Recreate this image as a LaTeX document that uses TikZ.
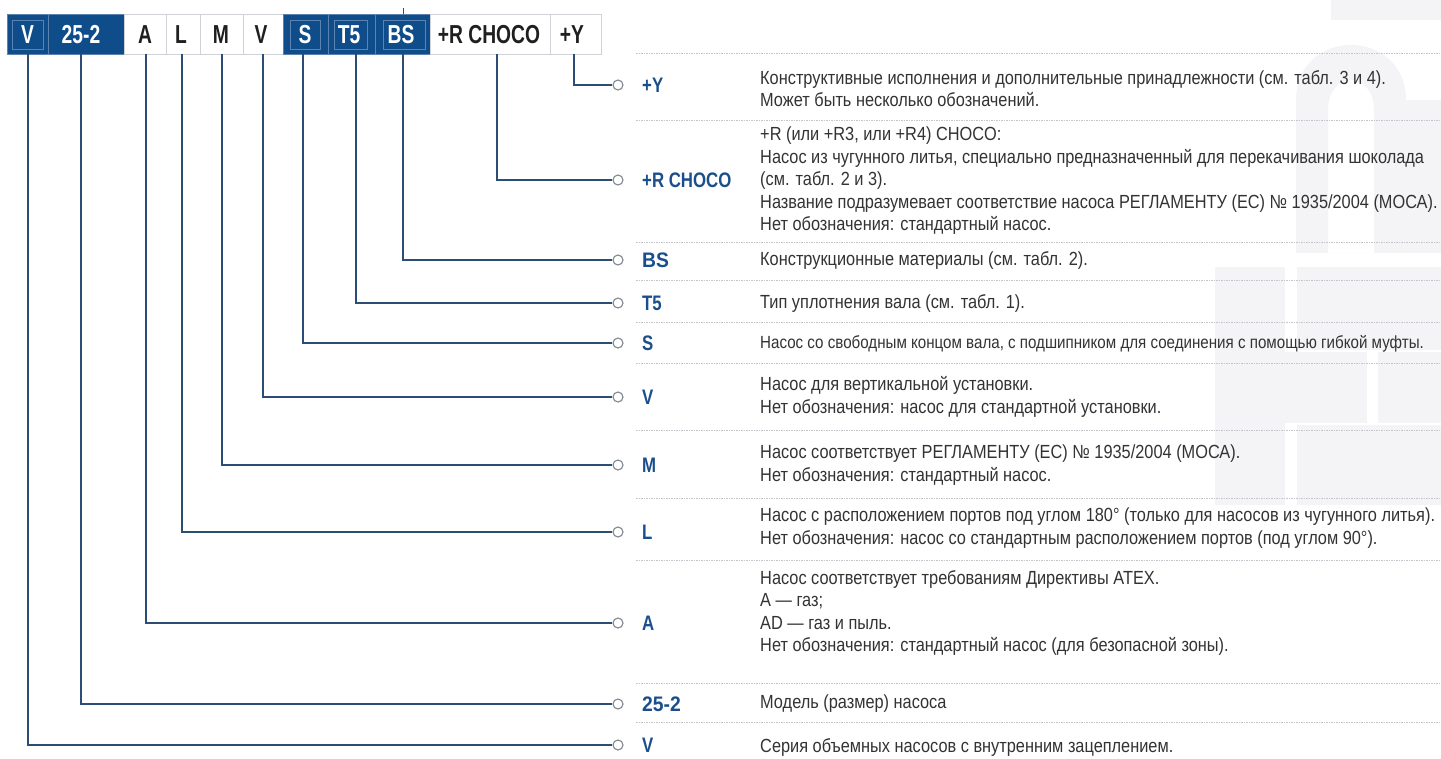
\documentclass[tikz,border=0pt]{standalone}
\usepackage{fontspec}
\setmainfont{Liberation Sans}
\newfontfamily\descfont{Liberation Sans}[FakeStretch=0.86]
\newfontfamily\codefont{Liberation Sans}[FakeStretch=0.8]
\newfontfamily\hdrfont{Liberation Sans}[FakeStretch=0.74]
\newfontfamily\widecode{Liberation Sans}[FakeStretch=0.92]
\definecolor{hdrblue}{HTML}{0F4C8A}
\definecolor{hdrline}{HTML}{CFD3D8}
\definecolor{hdrinner}{HTML}{5B82B0}
\definecolor{connblue}{HTML}{2C4E74}
\definecolor{labblue}{HTML}{1A4F8B}
\definecolor{desctext}{HTML}{333333}
\definecolor{sepgray}{HTML}{C4C6CC}
\definecolor{wmgray}{HTML}{F4F4F6}
\definecolor{circgray}{HTML}{7F8790}
\begin{document}
\begin{tikzpicture}[x=1pt,y=-1pt,
  darkbox/.style={fill=hdrblue,draw=hdrinner,line width=0.6pt,minimum height=40pt,inner sep=0pt},
  whitebox/.style={fill=white,draw=hdrline,line width=0.8pt,minimum height=40pt,inner sep=0pt},
  innersq/.style={draw=hdrinner,line width=0.6pt},
  codew/.style={anchor=base,inner sep=0pt,text=white,font=\hdrfont\bfseries\fontsize{26}{26}\selectfont},
  codek/.style={anchor=base,inner sep=0pt,text=black!88,font=\hdrfont\bfseries\fontsize{26}{26}\selectfont},
  conn/.style={draw=connblue,line width=1.5pt},
  circ/.style={circle,draw=circgray,fill=white,line width=1.1pt,minimum size=10pt,inner sep=0pt},
  lab/.style={anchor=base west,inner sep=0pt,text=labblue,font=\codefont\bfseries\fontsize{21}{21}\selectfont},
  labwide/.style={anchor=base west,inner sep=0pt,text=labblue,font=\widecode\bfseries\fontsize{21}{21}\selectfont},
  desc/.style={anchor=west,inner sep=0pt,align=left,text=desctext,font=\descfont\fontsize{19}{22.5}\selectfont},
  sep/.style={draw=sepgray,line width=1pt,dash pattern=on 1.5pt off 1pt}
]
\useasboundingbox (0,0) rectangle (1441,758);
\fill[white] (0,0) rectangle (1441,758);

% faint background watermark
\fill[wmgray] (1331,0) rectangle (1441,20);
\fill[wmgray,even odd rule]
  (1296,253) -- (1296,100) .. controls (1296,65) and (1322,45) .. (1351,45)
  .. controls (1380,45) and (1406,65) .. (1406,100) -- (1441,100) -- (1441,253) -- cycle
  (1328,253) -- (1328,110) .. controls (1328,90) and (1340,80) .. (1351,80)
  .. controls (1362,80) and (1374,90) .. (1374,110) -- (1374,253) -- cycle;
\fill[wmgray] (1215,267) rectangle (1285,505);
\fill[wmgray] (1297,267) rectangle (1441,350);
\fill[wmgray] (1285,352) rectangle (1367,423);
\fill[wmgray] (1378,352) rectangle (1441,423);
\fill[wmgray] (1297,425) rectangle (1441,505);

% header boxes
\node[darkbox,minimum width=41pt] (bV) at (27.5,34) {};
\node[darkbox,minimum width=76pt] (b252) at (86,34) {};
\node[whitebox,minimum width=42pt] (bA) at (145,34) {};
\node[whitebox,minimum width=34pt] (bL) at (183,34) {};
\node[whitebox,minimum width=43pt] (bM) at (221.5,34) {};
\node[whitebox,minimum width=40pt] (bV2) at (263,34) {};
\node[darkbox,minimum width=45pt] (bS) at (305.5,34) {};
\node[darkbox,minimum width=47pt] (bT5) at (351.5,34) {};
\node[darkbox,minimum width=55pt] (bBS) at (402.5,34) {};
\node[whitebox,minimum width=120pt] (bR) at (490,34) {};
\node[whitebox,minimum width=51pt] (bY) at (575.5,34) {};

\draw[innersq] (12,20) rectangle (43,49);
\draw[innersq] (290,20) rectangle (320,49);
\draw[innersq] (334,20) rectangle (367,49);
\draw[innersq] (383,20) rectangle (425,49);

\node[codew] (hV) at (27.5,43) {V};
\node[codew] (h252) at (81,43) {25-2};
\node[codek] (hA) at (145,43) {A};
\node[codek] (hL) at (181,43) {L};
\node[codek] (hM) at (221,43) {M};
\node[codek] (hV2) at (261,43) {V};
\node[codew] (hS) at (305,43) {S};
\node[codew] (hT5) at (349,43) {T5};
\node[codew] (hBS) at (401,43) {BS};
\node[codek] (hR) at (489,43) {+R CHOCO};
\node[codek] (hY) at (572,43) {+Y};

% tick above BS
\coordinate (bstop) at (403,8);
\draw[conn,line width=0.8pt] (bstop) -- (bstop |- bBS.north);

% connector start points
\coordinate (tV) at (28,54);
\coordinate (t252) at (81,54);
\coordinate (tA) at (146,54);
\coordinate (tL) at (182,54);
\coordinate (tM) at (222,54);
\coordinate (tV2) at (263,54);
\coordinate (tS) at (303,54);
\coordinate (tT5) at (356,54);
\coordinate (tBS) at (403,54);
\coordinate (tR) at (497,54);
\coordinate (tY) at (574,54);

% separators
\coordinate (s0a) at (636,53);  \coordinate (s0b) at (1441,53);
\coordinate (s1a) at (636,120); \coordinate (s1b) at (1441,120);
\coordinate (s2a) at (636,242); \coordinate (s2b) at (1441,242);
\coordinate (s3a) at (636,280); \coordinate (s3b) at (1441,280);
\coordinate (s4a) at (636,322); \coordinate (s4b) at (1441,322);
\coordinate (s5a) at (636,363); \coordinate (s5b) at (1441,363);
\coordinate (s6a) at (636,430); \coordinate (s6b) at (1441,430);
\coordinate (s7a) at (636,498); \coordinate (s7b) at (1441,498);
\coordinate (s8a) at (636,560); \coordinate (s8b) at (1441,560);
\coordinate (s9a) at (636,683); \coordinate (s9b) at (1441,683);
\coordinate (s10a) at (636,722); \coordinate (s10b) at (1441,722);
\foreach \i in {0,...,10} {\draw[sep] (s\i a) -- (s\i b);}

% circles
\node[circ] (cY) at (618,85) {};
\node[circ] (cR) at (618,180) {};
\node[circ] (cBS) at (618,260) {};
\node[circ] (cT5) at (618,303) {};
\node[circ] (cS) at (618,343) {};
\node[circ] (cV2) at (618,397) {};
\node[circ] (cM) at (618,465) {};
\node[circ] (cL) at (618,532) {};
\node[circ] (cA) at (618,623) {};
\node[circ] (c252) at (618,704) {};
\node[circ] (cV) at (618,745) {};

% connectors
\draw[conn] (tY) |- (cY);
\draw[conn] (tR) |- (cR);
\draw[conn] (tBS) |- (cBS);
\draw[conn] (tT5) |- (cT5);
\draw[conn] (tS) |- (cS);
\draw[conn] (tV2) |- (cV2);
\draw[conn] (tM) |- (cM);
\draw[conn] (tL) |- (cL);
\draw[conn] (tA) |- (cA);
\draw[conn] (t252) |- (c252);
\draw[conn] (tV) |- (cV);

% labels
\node[lab] (lY) at (642,92.5) {+Y};
\node[lab] (lR) at (642,187.5) {+R CHOCO};
\node[labwide] (lBS) at (642,267.5) {BS};
\node[lab] (lT5) at (642,310.5) {T5};
\node[lab] (lS) at (642,350.5) {S};
\node[lab] (lV2) at (642,404.5) {V};
\node[lab] (lM) at (642,472.5) {M};
\node[lab] (lL) at (642,539.5) {L};
\node[lab] (lA) at (642,630.5) {A};
\node[labwide] (l252) at (642,711.5) {25-2};
\node[lab] (lV) at (642,752.5) {V};

% descriptions
\node[desc] (dY) at (760,88.5) {Конструктивные исполнения и дополнительные принадлежности (см. табл. 3 и 4).\\Может быть несколько обозначений.};
\node[desc] (dR) at (760,181) {+R (или +R3, или +R4) CHOCO:\\Насос из чугунного литья, специально предназначенный для перекачивания шоколада\\(см. табл. 2 и 3).\\Название подразумевает соответствие насоса РЕГЛАМЕНТУ (ЕС) № 1935/2004 (МОСА).\\Нет обозначения: стандартный насос.};
\node[desc] (dBS) at (760,260) {Конструкционные материалы (см. табл. 2).};
\node[desc] (dT5) at (760,303) {Тип уплотнения вала (см. табл. 1).};
\node[desc,font=\descfont\fontsize{17.6}{21}\selectfont] (dS) at (760,344) {Насос со свободным концом вала, с подшипником для соединения с помощью гибкой муфты.};
\node[desc] (dV2) at (760,397) {Насос для вертикальной установки.\\Нет обозначения: насос для стандартной установки.};
\node[desc] (dM) at (760,465) {Насос соответствует РЕГЛАМЕНТУ (ЕС) № 1935/2004 (МОСА).\\Нет обозначения: стандартный насос.};
\node[desc] (dL) at (760,528) {Насос с расположением портов под углом 180° (только для насосов из чугунного литья).\\Нет обозначения: насос со стандартным расположением портов (под углом 90°).};
\node[desc] (dA) at (760,613) {Насос соответствует требованиям Директивы ATEX.\\A — газ;\\AD — газ и пыль.\\Нет обозначения: стандартный насос (для безопасной зоны).};
\node[desc] (d252) at (760,704) {Модель (размер) насоса};
\node[desc] (dV) at (760,747) {Серия объемных насосов с внутренним зацеплением.};
\end{tikzpicture}
\end{document}
